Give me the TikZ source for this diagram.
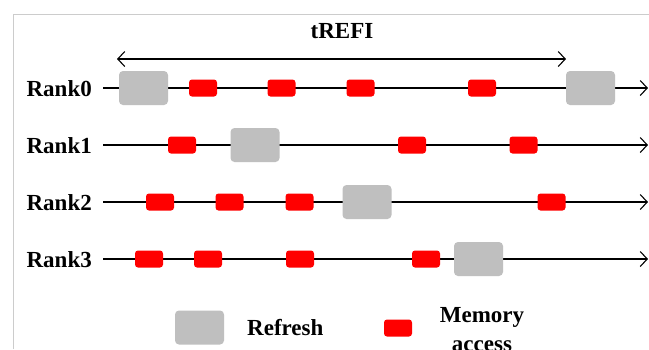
\documentclass[tikz,border=0pt]{standalone}
\usepackage{fontspec}
\setmainfont{Liberation Serif}
\usetikzlibrary{arrows.meta}
\definecolor{refreshgray}{HTML}{BFBFBF}
\definecolor{accessred}{HTML}{FF0000}
\definecolor{framegray}{HTML}{CCCCCC}
\tikzset{
  lbl/.style={font=\fontsize{23}{26}\selectfont\bfseries, inner sep=0pt},
  timeline/.style={line width=1.1pt, -{Straight Barb[length=7pt,width=15pt,line width=1.1pt]}},
  span/.style={line width=1.1pt, {Straight Barb[length=7pt,width=15pt,line width=1.1pt]}-{Straight Barb[length=7pt,width=15pt,line width=1.1pt]}},
  refbox/.style={fill=refreshgray, draw=none, rounded corners=4pt, minimum width=49pt, minimum height=34pt, inner sep=0pt},
  accbox/.style={fill=accessred, draw=none, rounded corners=3pt, minimum width=28pt, minimum height=17pt, inner sep=0pt},
}
\begin{document}
\begin{tikzpicture}[x=1pt,y=-1pt]
\useasboundingbox (0,0) rectangle (649,349);
\fill[white] (0,0) rectangle (649,349);
% open frame
\draw[framegray, line width=1pt] (13.5,349) -- (13.5,14.5) -- (649,14.5);

% refresh interval
\node[lbl, anchor=base] (trefi) at (342,38) {tREFI};
\coordinate (ts) at (117,59);
\coordinate (te) at (566,59);
\draw[span] (ts) -- (te);

% rank labels and time axes
\foreach \i/\y in {0/88,1/145,2/202,3/259}{
  \node[lbl, anchor=base east] (rank\i) at (92,\y+8) {Rank\i};
  \coordinate (s\i) at (103,\y);
  \coordinate (e\i) at (648,\y);
  \draw[timeline] (s\i) -- (e\i);
}

% Rank0
\node[refbox] (r0f1) at (143.5,88) {};
\node[accbox] (r0a1) at (203,88) {};
\node[accbox] (r0a2) at (281.5,88) {};
\node[accbox] (r0a3) at (360.5,88) {};
\node[accbox] (r0a4) at (482,88) {};
\node[refbox] (r0f2) at (590.5,88) {};
% Rank1
\node[accbox] (r1a1) at (182,145) {};
\node[refbox] (r1f1) at (255,145) {};
\node[accbox] (r1a2) at (412,145) {};
\node[accbox] (r1a3) at (523.5,145) {};
% Rank2
\node[accbox] (r2a1) at (160,202) {};
\node[accbox] (r2a2) at (229.5,202) {};
\node[accbox] (r2a3) at (299.5,202) {};
\node[refbox] (r2f1) at (367,202) {};
\node[accbox] (r2a4) at (551.5,202) {};
% Rank3
\node[accbox] (r3a1) at (149,259) {};
\node[accbox] (r3a2) at (208,259) {};
\node[accbox] (r3a3) at (300,259) {};
\node[accbox] (r3a4) at (426,259) {};
\node[refbox] (r3f1) at (478.5,259) {};

% legend
\node[refbox] (legf) at (199.5,327.5) {};
\node[lbl, anchor=base west] (legftxt) at (247,335) {Refresh};
\node[accbox] (lega) at (398,328) {};
% the base anchor of a two-line node sits on its last line
\node[lbl, anchor=base, align=center] (legatxt) at (482,351) {Memory\\[3pt]access};
\end{tikzpicture}
\end{document}
